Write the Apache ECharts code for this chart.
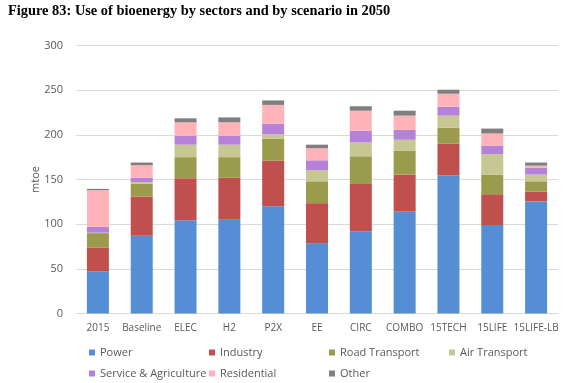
<!DOCTYPE html>
<html><head><meta charset="utf-8">
<script src="https://cdn.jsdelivr.net/npm/echarts@6/dist/echarts.min.js"></script>
<style>html,body{margin:0;padding:0;background:#fff}#c{width:565px;height:383px}</style>
</head><body><div id="c"></div>
<script>
const categories = ["2015","Baseline","ELEC","H2","P2X","EE","CIRC","COMBO","15TECH","15LIFE","15LIFE-LB"];
const power       = [47, 87, 104.5, 105, 120, 78.5, 92, 114, 154.5, 99, 125.5];
const industry    = [27, 44, 47, 47, 51, 45, 53, 41.5, 35.5, 34.5, 11];
const road        = [16, 14.5, 23.5, 23, 24.5, 24.5, 31, 26.5, 18, 22, 11.5];
const air         = [0.5, 1.5, 14, 14, 5, 12.5, 15.5, 12.5, 13.5, 23, 7.5];
const service     = [6.5, 5, 10, 10, 12, 11, 13, 11, 10, 9.5, 7.5];
const residential = [41, 14, 15, 15, 21, 13.5, 22.5, 16, 14.5, 13.5, 2.5];
const other       = [1.5, 3, 4.5, 5.5, 5, 4, 5, 5.5, 4.5, 5.5, 3.5];
const yTicks = [0, 50, 100, 150, 200, 250, 300];

const seriesDefs = [
  ["Power", power, "#558ED5"],
  ["Industry", industry, "#C0504D"],
  ["Road Transport", road, "#9B9B4D"],
  ["Air Transport", air, "#C6C792"],
  ["Service & Agriculture", service, "#B581D9"],
  ["Residential", residential, "#FFB3B8"],
  ["Other", other, "#7F7F7F"]
];
const legendPos = [[89,347],[209,347],[329,347],[449,347],[89,368],[209,368],[329,368]];
const chart = echarts.init(document.getElementById('c'));
chart.setOption({
  animation: false,
  title: {text: "Figure 83: Use of bioenergy by sectors and by scenario in 2050", left: 8, top: 4, padding: 0,
    textStyle: {fontFamily: "Liberation Serif", fontWeight: "bold", fontSize: 14.4, color: "#000"}},
  grid: {left: 76, right: 7, top: 45.5, bottom: 69.5},
  legend: seriesDefs.map((s, i) => ({
    data: [s[0]], left: legendPos[i][0], top: legendPos[i][1], itemWidth: 6, itemHeight: 6,
    icon: 'rect', padding: 0, textStyle: {fontFamily: "Open Sans", fontSize: 11, color: "#595959"}
  })),
  xAxis: {type: 'category', data: categories,
    axisLine: {lineStyle: {color: "#D9D9D9"}}, axisTick: {show: false},
    axisLabel: {fontFamily: "Open Sans", fontSize: 10, color: "#595959", margin: 10, interval: 0}},
  yAxis: {type: 'value', min: yTicks[0], max: yTicks[yTicks.length-1], interval: 50,
    name: "mtoe", nameLocation: 'middle', nameGap: 35, nameRotate: 90, nameMoveOverlap: false,
    nameTextStyle: {fontFamily: "Open Sans", fontSize: 11, color: "#595959"},
    axisLine: {show: false}, axisTick: {show: false},
    splitLine: {lineStyle: {color: "#D9D9D9"}},
    axisLabel: {fontFamily: "Open Sans", fontSize: 11, color: "#595959", margin: 13}},
  series: seriesDefs.map(s => ({
    name: s[0], type: 'bar', stack: 'total', data: s[1], barWidth: 22,
    itemStyle: {color: s[2]}
  }))
});
</script></body></html>
